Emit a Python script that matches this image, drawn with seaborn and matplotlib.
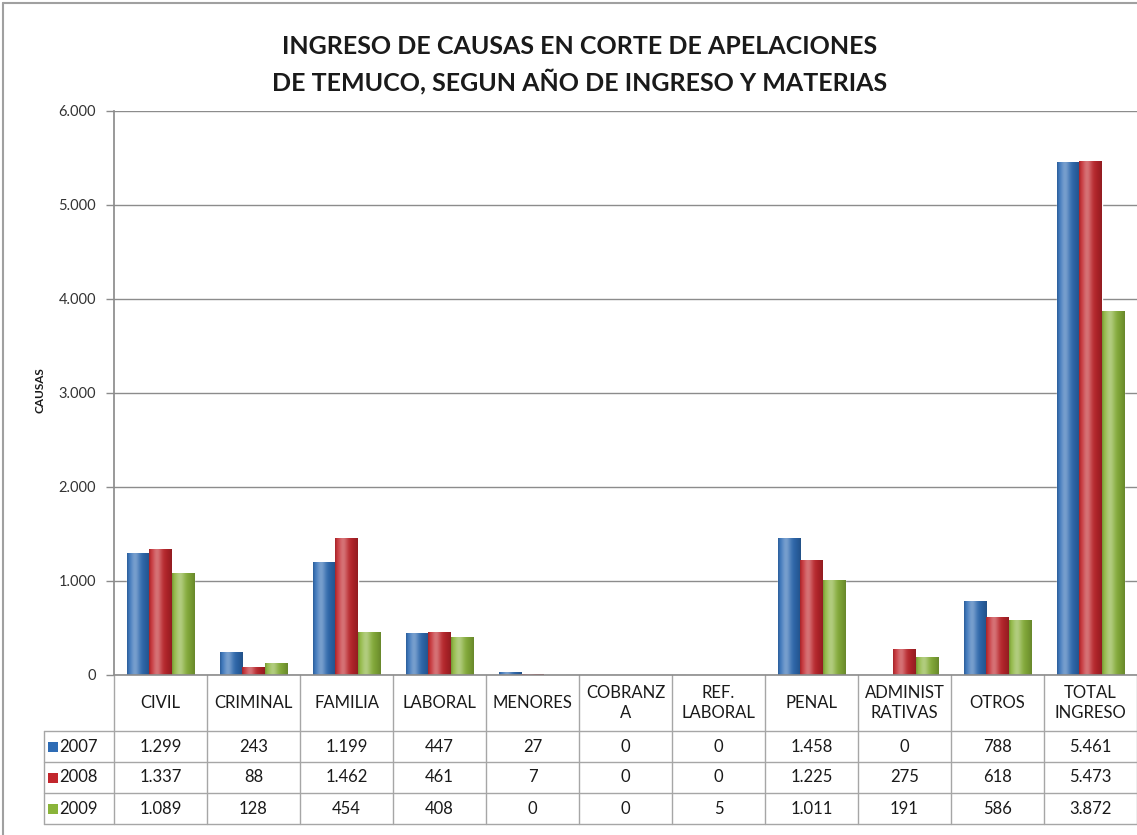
import numpy as np
import pandas as pd
import matplotlib
matplotlib.use('Agg')
import matplotlib.pyplot as plt
import matplotlib.ticker as mticker
from matplotlib.patches import Rectangle
from matplotlib.lines import Line2D
from matplotlib import font_manager
import seaborn as sns

# ---------- datos ----------
categorias = ['CIVIL', 'CRIMINAL', 'FAMILIA', 'LABORAL', 'MENORES', 'COBRANZA',
              'REF. LABORAL', 'PENAL', 'ADMINISTRATIVAS', 'OTROS', 'TOTAL INGRESO']
etiquetas = ['CIVIL', 'CRIMINAL', 'FAMILIA', 'LABORAL', 'MENORES', 'COBRANZ\nA',
             'REF.\nLABORAL', 'PENAL', 'ADMINIST\nRATIVAS', 'OTROS', 'TOTAL\nINGRESO']
anios = ['2007', '2008', '2009']
v2007 = [1299, 243, 1199, 447, 27, 0, 0, 1458, 0, 788, 5461]
v2008 = [1337, 88, 1462, 461, 7, 0, 0, 1225, 275, 618, 5473]
v2009 = [1089, 128, 454, 408, 0, 0, 5, 1011, 191, 586, 3872]
colores = ['#2e6cb5', '#c2262c', '#8ab43a']

df = pd.DataFrame({'materia': categorias * 3,
                   'anio': np.repeat(anios, len(categorias)),
                   'causas': v2007 + v2008 + v2009})

sns.set_theme(style='white')
plt.rcParams['font.family'] = ['Lato', 'DejaVu Sans']

# fuente angosta para el titulo (parecida a Calibri), si existe
nombres = {f.name for f in font_manager.fontManager.ttflist}
fuente_titulo = ['Liberation Sans Narrow', 'Lato'] if 'Liberation Sans Narrow' in nombres else ['Lato']
tam_titulo = 21 if 'Liberation Sans Narrow' in nombres else 18

W, H = 1137, 835
fig = plt.figure(figsize=(W / 100, H / 100), dpi=100)

# ---------- grafico de barras ----------
x_izq, x_der, y_cero, y_tope = 114, 1137, 675, 111
ax = fig.add_axes([x_izq / W, (H - y_cero) / H, (x_der - x_izq) / W, (y_cero - y_tope) / H])
sns.barplot(data=df, x='materia', y='causas', hue='anio', order=categorias,
            hue_order=anios, palette=colores, saturation=1, width=0.71,
            legend=False, ax=ax, zorder=3)


def sombreado(color, n=64):
    base = np.array(matplotlib.colors.to_rgb(color))
    t = np.linspace(0, 1, n)
    # efecto cilindro: bordes oscuros, brillo a la izquierda del centro
    brillo = np.exp(-((t - 0.35) / 0.22) ** 2) * 0.35
    oscuro = 0.25 * (t ** 3) + 0.15 * np.exp(-(t / 0.06) ** 2)
    rgb = base[None, :] * (1 - oscuro[:, None]) + (1 - base[None, :]) * brillo[:, None]
    return np.clip(rgb, 0, 1)[None, :, :]


for barra in list(ax.patches):
    h = barra.get_height()
    if h <= 0:
        continue
    x0 = barra.get_x()
    w = barra.get_width()
    im = ax.imshow(sombreado(barra.get_facecolor()), extent=[x0, x0 + w, 0, h],
                   aspect='auto', zorder=3.5, interpolation='bilinear')
    im.set_clip_path(barra)

ax.set_xlim(-0.5, len(categorias) - 0.5)
ax.set_ylim(0, 6000)
ax.yaxis.set_major_locator(mticker.MultipleLocator(1000))
ax.yaxis.set_major_formatter(mticker.FuncFormatter(lambda v, p: f'{int(v):,}'.replace(',', '.')))
ax.grid(axis='y', color='#8c8c8c', linewidth=1, zorder=1)
ax.set_xticks([])
ax.set_xlabel('')
ax.set_ylabel('')
for lado in ['top', 'right', 'bottom']:
    ax.spines[lado].set_visible(False)
ax.spines['left'].set_color('#8c8c8c')
ax.tick_params(axis='y', left=True, length=6, width=1, color='#8c8c8c',
               labelsize=10.5, labelcolor='#333333', pad=7)

# ---------- tabla de datos ----------
y_fin = 826
unidad = (x_der - x_izq) / len(categorias)
x_tabla = 44
tax = fig.add_axes([x_tabla / W, (H - y_fin) / H, (x_der - x_tabla) / W, (y_fin - y_cero) / H])
x_min = -0.5 - (x_izq - x_tabla) / unidad
tax.set_xlim(x_min, len(categorias) - 0.5)
tax.set_ylim(y_fin, y_cero)
tax.axis('off')

gris = '#a6a6a6'
filas = [731, 762, 793, 824]
for k in range(len(categorias) + 1):
    tax.plot([-0.5 + k, -0.5 + k], [y_cero, filas[-1]], color=gris, lw=1, clip_on=False)
tax.plot([x_min, x_min], [filas[0], filas[-1]], color=gris, lw=1, clip_on=False)
tax.plot([-0.5, len(categorias) - 0.5], [y_cero, y_cero], color='#8c8c8c', lw=1.2, clip_on=False)
for yf in filas:
    tax.plot([x_min, len(categorias) - 0.5], [yf, yf], color=gris, lw=1, clip_on=False)

fs = 12
for i, et in enumerate(etiquetas):
    tax.text(i, (y_cero + filas[0]) / 2, et, ha='center', va='center', fontsize=fs,
             color='#1a1a1a', linespacing=1.35)

valores = [v2007, v2008, v2009]
for r, (anio, vals, col) in enumerate(zip(anios, valores, colores)):
    yc = (filas[r] + filas[r + 1]) / 2
    for i, v in enumerate(vals):
        tax.text(i, yc, f'{v:,}'.replace(',', '.'), ha='center', va='center',
                 fontsize=fs, color='#1a1a1a')
    tax.add_patch(Rectangle((x_min + 4 / unidad, yc + 5), 10 / unidad, -10,
                            facecolor=col, edgecolor='none', clip_on=False))
    tax.text(x_min + 15 / unidad, yc, anio, ha='left', va='center', fontsize=fs, color='#1a1a1a')

# ---------- titulos y marco ----------
fig.text(580 / W, 1 - 46 / H, 'INGRESO DE CAUSAS EN CORTE DE APELACIONES',
         ha='center', va='center', fontsize=tam_titulo, fontweight='bold', color='#1a1a1a',
         family=fuente_titulo)
fig.text(580 / W, 1 - 81 / H, 'DE TEMUCO, SEGUN AÑO DE INGRESO Y MATERIAS',
         ha='center', va='center', fontsize=tam_titulo, fontweight='bold', color='#1a1a1a',
         family=fuente_titulo)
fig.text(40 / W, 1 - 390 / H, 'CAUSAS', rotation=90, ha='center', va='center',
         fontsize=8.5, fontweight='bold', color='#1a1a1a')

fig.add_artist(Line2D([3 / W, 3 / W], [0, 1 - 3 / H], color='#a0a0a0', lw=1.5))
fig.add_artist(Line2D([3 / W, 1], [1 - 3 / H, 1 - 3 / H], color='#a0a0a0', lw=1.5))

fig.savefig('out.png', dpi=100)
